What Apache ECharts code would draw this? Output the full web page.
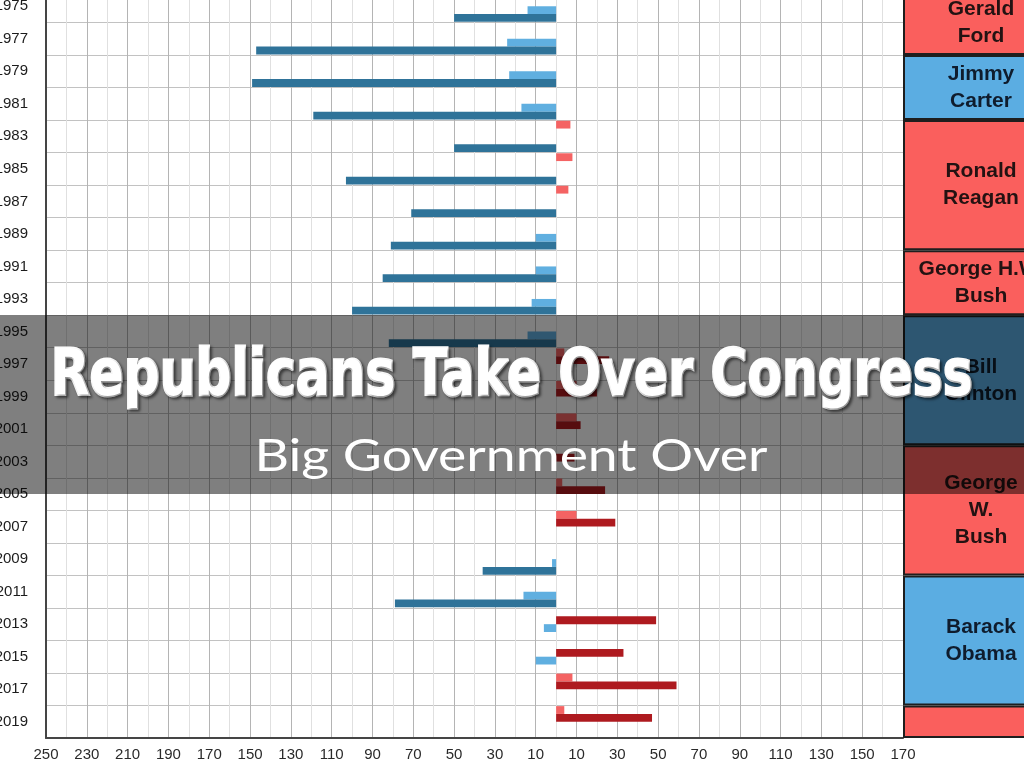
<!DOCTYPE html>
<html>
<head>
<meta charset="utf-8">
<style>
  html, body { margin: 0; padding: 0; background: #fff; }
  #chart { width: 1024px; height: 768px; }
</style>
<script src="https://cdn.jsdelivr.net/npm/echarts@6/dist/echarts.min.js"></script>
</head>
<body>
<div id="chart"></div>
<script>
// seat margins per row (R positive, D negative)
const years = ['1975', '1977', '1979', '1981', '1983', '1985', '1987', '1989', '1991', '1993', '1995', '1997',
  '1999', '2001', '2003', '2005', '2007', '2009', '2011', '2013', '2015', '2017', '2019'];
const senateR = [null, null, null, null, 7, 8, 6, null, null, null, null, 4, 10, 10, null, 3, 10, null, null, null, null, 8, 4];
const houseR = [null, null, null, null, null, null, null, null, null, null, null, 26, 20, 12, 9, 24, 29, null, null, 49, 33, 59, 47];
const senateD = [-14, -24, -23, -17, null, null, null, -10, -10, -12, -14, null, null, null, null, null, null, -2, -16, -6, -10, null, null];
const houseD = [-50, -147, -149, -119, -50, -103, -71, -81, -85, -100, -82, null, null, null, null, null, null, -36, -79, null, null, null, null];

const presidents = ['Gerald\nFord', 'Jimmy\nCarter', 'Ronald\nReagan', 'George H.W.\nBush', 'Bill\nClinton', 'George\nW.\nBush', 'Barack\nObama', ''];
const presidentRows = [2, 2, 4, 2, 4, 4, 4, 1];
const presidentParty = ['R', 'D', 'R', 'R', 'D', 'R', 'D', 'R'];

const titleText = 'Republicans Take Over Congress';
const subtitleText = 'Big Government Over';

function textWidth(str, font) {
  let ctx = document.createElement('canvas').getContext('2d');
  ctx.font = font;
  return ctx.measureText(str).width;
}

let myChart = echarts.init(document.getElementById('chart'));

const titleFont = 'bold 64px "DejaVu Sans"';
const subFont = '400 44px Lato';

function barSeries(name, data, color) {
  return {
    name: name,
    type: 'bar',
    data: data,
    barGap: '0%',
    barCategoryGap: '4%',
    itemStyle: { color: color },
    silent: true
  };
}

let presSeries = presidents.map((p, i) => {
  return {
    name: p,
    type: 'bar',
    xAxisIndex: 1,
    yAxisIndex: 1,
    stack: 'pres',
    barWidth: '100%',
    data: [presidentRows[i]],
    silent: true,
    itemStyle: {
      color: presidentParty[i] === 'R' ? '#fa5f5d' : '#5badE2',
      borderColor: '#1e1e1e',
      borderWidth: 2
    },
    label: {
      show: true,
      position: 'inside',
      formatter: p,
      color: presidentParty[i] === 'R' ? '#231212' : '#0f1c2d',
      fontFamily: 'Liberation Sans',
      fontWeight: 'bold',
      fontSize: 21,
      lineHeight: 27
    }
  };
});

let option = {
  backgroundColor: '#fff',
  animation: false,
  grid: [
    { left: 46, right: 121, top: -10, bottom: 30, containLabel: false, outerBoundsMode: 'none' },
    { left: 903, width: 156, top: -10, bottom: 30, containLabel: false, outerBoundsMode: 'none' }
  ],
  xAxis: [
    {
      type: 'value',
      min: -250,
      max: 170,
      interval: 10,
      axisLine: { show: true, lineStyle: { color: '#454545', width: 2 } },
      axisTick: { show: false },
      axisLabel: {
        margin: 9,
        color: '#2a2a2a',
        fontFamily: 'Liberation Sans',
        fontSize: 15,
        formatter: function (v) {
          return Math.round((v + 250) / 10) % 2 === 0 ? String(Math.abs(v)) : '';
        }
      },
      splitLine: { show: true, lineStyle: { color: ['#b4b4b4', '#e0e0e0'], width: 1 } }
    },
    {
      type: 'category',
      gridIndex: 1,
      data: ['p'],
      show: false
    }
  ],
  yAxis: [
    {
      type: 'category',
      data: years,
      inverse: true,
      axisLine: { show: true, onZero: false, lineStyle: { color: '#454545', width: 2 } },
      axisTick: { show: false },
      axisLabel: {
        interval: 0,
        margin: 18,
        color: '#1c1c1c',
        fontFamily: 'Liberation Sans',
        fontSize: 15
      },
      splitLine: { show: true, interval: 0, lineStyle: { color: '#c2c2c2', width: 1 } }
    },
    {
      type: 'value',
      gridIndex: 1,
      min: 0,
      max: years.length,
      inverse: true,
      show: false
    }
  ],
  series: [
    barSeries('Senate R', senateR, '#f46363'),
    barSeries('House R', houseR, '#ae1a1f'),
    barSeries('Senate D', senateD, '#60afe0'),
    barSeries('House D', houseD, '#2f7399')
  ].concat(presSeries),
  graphic: [
    {
      type: 'rect',
      z: 100,
      silent: true,
      shape: { x: 0, y: 315, width: 1024, height: 179 },
      style: { fill: 'rgba(0,0,0,0.5)' }
    },
    {
      type: 'text',
      z: 101,
      silent: true,
      x: 512,
      y: 378,
      scaleX: 925 / (textWidth(titleText, titleFont) + 4),
      style: {
        text: titleText,
        font: titleFont,
        fill: '#fff',
        stroke: '#fff',
        lineWidth: 3,
        align: 'center',
        verticalAlign: 'middle',
        textShadowColor: 'rgba(0,0,0,0.45)',
        textShadowBlur: 3,
        textShadowOffsetX: 2,
        textShadowOffsetY: 2
      }
    },
    {
      type: 'text',
      z: 101,
      silent: true,
      x: 511,
      y: 457,
      scaleX: 513 / textWidth(subtitleText, subFont),
      style: {
        text: subtitleText,
        font: subFont,
        fill: '#fff',
        align: 'center',
        verticalAlign: 'middle'
      }
    }
  ]
};

myChart.setOption(option);
window.addEventListener('resize', function () {
  myChart.resize();
});
</script>
</body>
</html>
